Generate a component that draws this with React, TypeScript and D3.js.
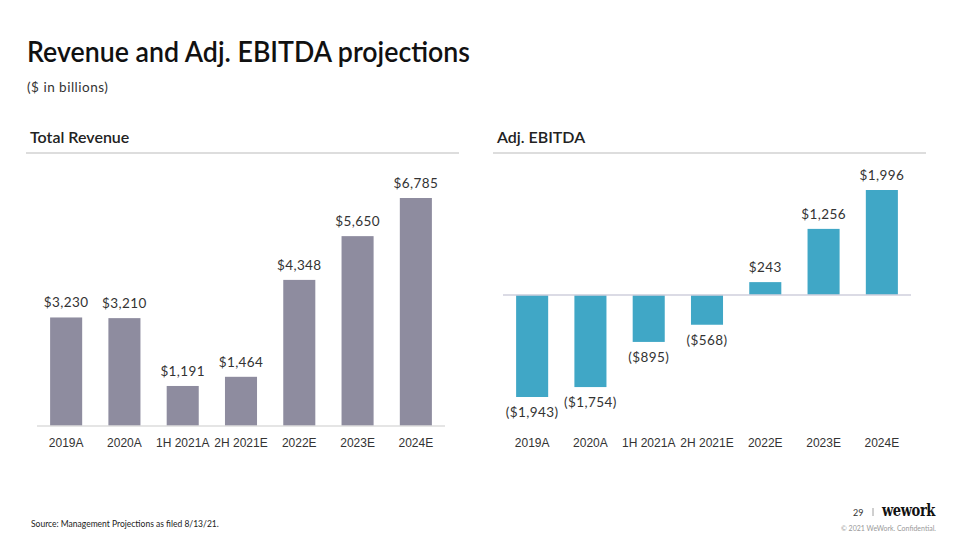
import React from "react";
import * as d3 from "d3";

const categories = ["2019A", "2020A", "1H 2021A", "2H 2021E", "2022E", "2023E", "2024E"];
const revenue = [3230, 3210, 1191, 1464, 4348, 5650, 6785];
const ebitda = [-1943, -1754, -895, -568, 243, 1256, 1996];

const FONT = "Lato, 'Noto Sans', sans-serif";
const AXFONT = "'Liberation Sans', Arial, sans-serif";
const fmt = (v: number) => {
  const s = "$" + d3.format(",")(Math.abs(v));
  return v < 0 ? `(${s})` : s;
};

export default function App() {
  const xL = d3.scaleBand<string>().domain(categories).range([37, 445]).paddingInner(0.45).paddingOuter(0.225);
  const yL = d3.scaleLinear().domain([0, 6785]).range([426, 198]);
  const xR = d3.scaleBand<string>().domain(categories).range([503, 911]).paddingInner(0.45).paddingOuter(0.225);
  const yR = d3.scaleLinear().domain([-1943, 1996]).range([397, 190]);

  return (
    <svg width={960} height={540} style={{ position: "absolute", left: 0, top: 0, background: "#fff" }} fontFamily={FONT}>
      <rect width={960} height={540} fill="#fff" />
      <text x={27} y={62} fontSize={28} fontWeight={600} fill="#111" textLength={443} lengthAdjust="spacingAndGlyphs">Revenue and Adj. EBITDA projections</text>
      <text x={27} y={92} fontSize={13.5} fill="#333" letterSpacing={0.5}>($ in billions)</text>

      <text x={30} y={143} fontSize={16} fontWeight={600} fill="#222">Total Revenue</text>
      <line x1={26} x2={459} y1={153} y2={153} stroke="#ddd" strokeWidth={2} />
      <text x={497} y={143} fontSize={16} fontWeight={600} fill="#222">Adj. EBITDA</text>
      <line x1={493} x2={926} y1={153} y2={153} stroke="#ddd" strokeWidth={2} />

      {/* Left chart */}
      {categories.map((c, i) => (
        <g key={"l" + c}>
          <rect x={xL(c)} y={yL(revenue[i])} width={xL.bandwidth()} height={yL(0) - yL(revenue[i])} fill="#8e8c9f" />
          <text x={xL(c)! + xL.bandwidth() / 2} y={yL(revenue[i]) - 10} textAnchor="middle" fontSize={13.5} fill="#333" letterSpacing={0.4}>{fmt(revenue[i])}</text>
          <text x={xL(c)! + xL.bandwidth() / 2} y={447} textAnchor="middle" fontSize={12} fill="#333" fontFamily={AXFONT}>{c}</text>
        </g>
      ))}
      <line x1={37} x2={445} y1={yL(0)} y2={yL(0)} stroke="#ddd" strokeWidth={1.5} />

      {/* Right chart */}
      {categories.map((c, i) => {
        const v = ebitda[i];
        const top = v >= 0 ? yR(v) : yR(0);
        const h = Math.abs(yR(v) - yR(0));
        const cx = xR(c)! + xR.bandwidth() / 2;
        return (
          <g key={"r" + c}>
            <rect x={xR(c)} y={top} width={xR.bandwidth()} height={h} fill="#40a7c6" />
            <text x={cx} y={v >= 0 ? yR(v) - 10 : yR(v) + 20} textAnchor="middle" fontSize={13.5} fill="#333" letterSpacing={0.4}>{fmt(v)}</text>
            <text x={cx} y={447} textAnchor="middle" fontSize={12} fill="#333" fontFamily={AXFONT}>{c}</text>
          </g>
        );
      })}
      <line x1={503} x2={911} y1={yR(0)} y2={yR(0)} stroke="#cfcfdc" strokeWidth={1.5} />

      {/* Footer */}
      <text x={31} y={527} fontSize={8.5} fill="#222">Source: Management Projections as filed 8/13/21.</text>
      <text x={853} y={516} fontSize={9} fill="#333">29</text>
      <line x1={873} x2={873} y1={508} y2={516} stroke="#888" strokeWidth={0.8} />
      <text x={882} y={516} fontSize={16} fontWeight={700} fill="#111" fontFamily="'DejaVu Serif', serif" letterSpacing={-0.5} textLength={53} lengthAdjust="spacingAndGlyphs">wework</text>
      <text x={841} y={531} fontSize={7} fill="#999" textLength={95} lengthAdjust="spacingAndGlyphs">© 2021 WeWork. Confidential.</text>
    </svg>
  );
}
